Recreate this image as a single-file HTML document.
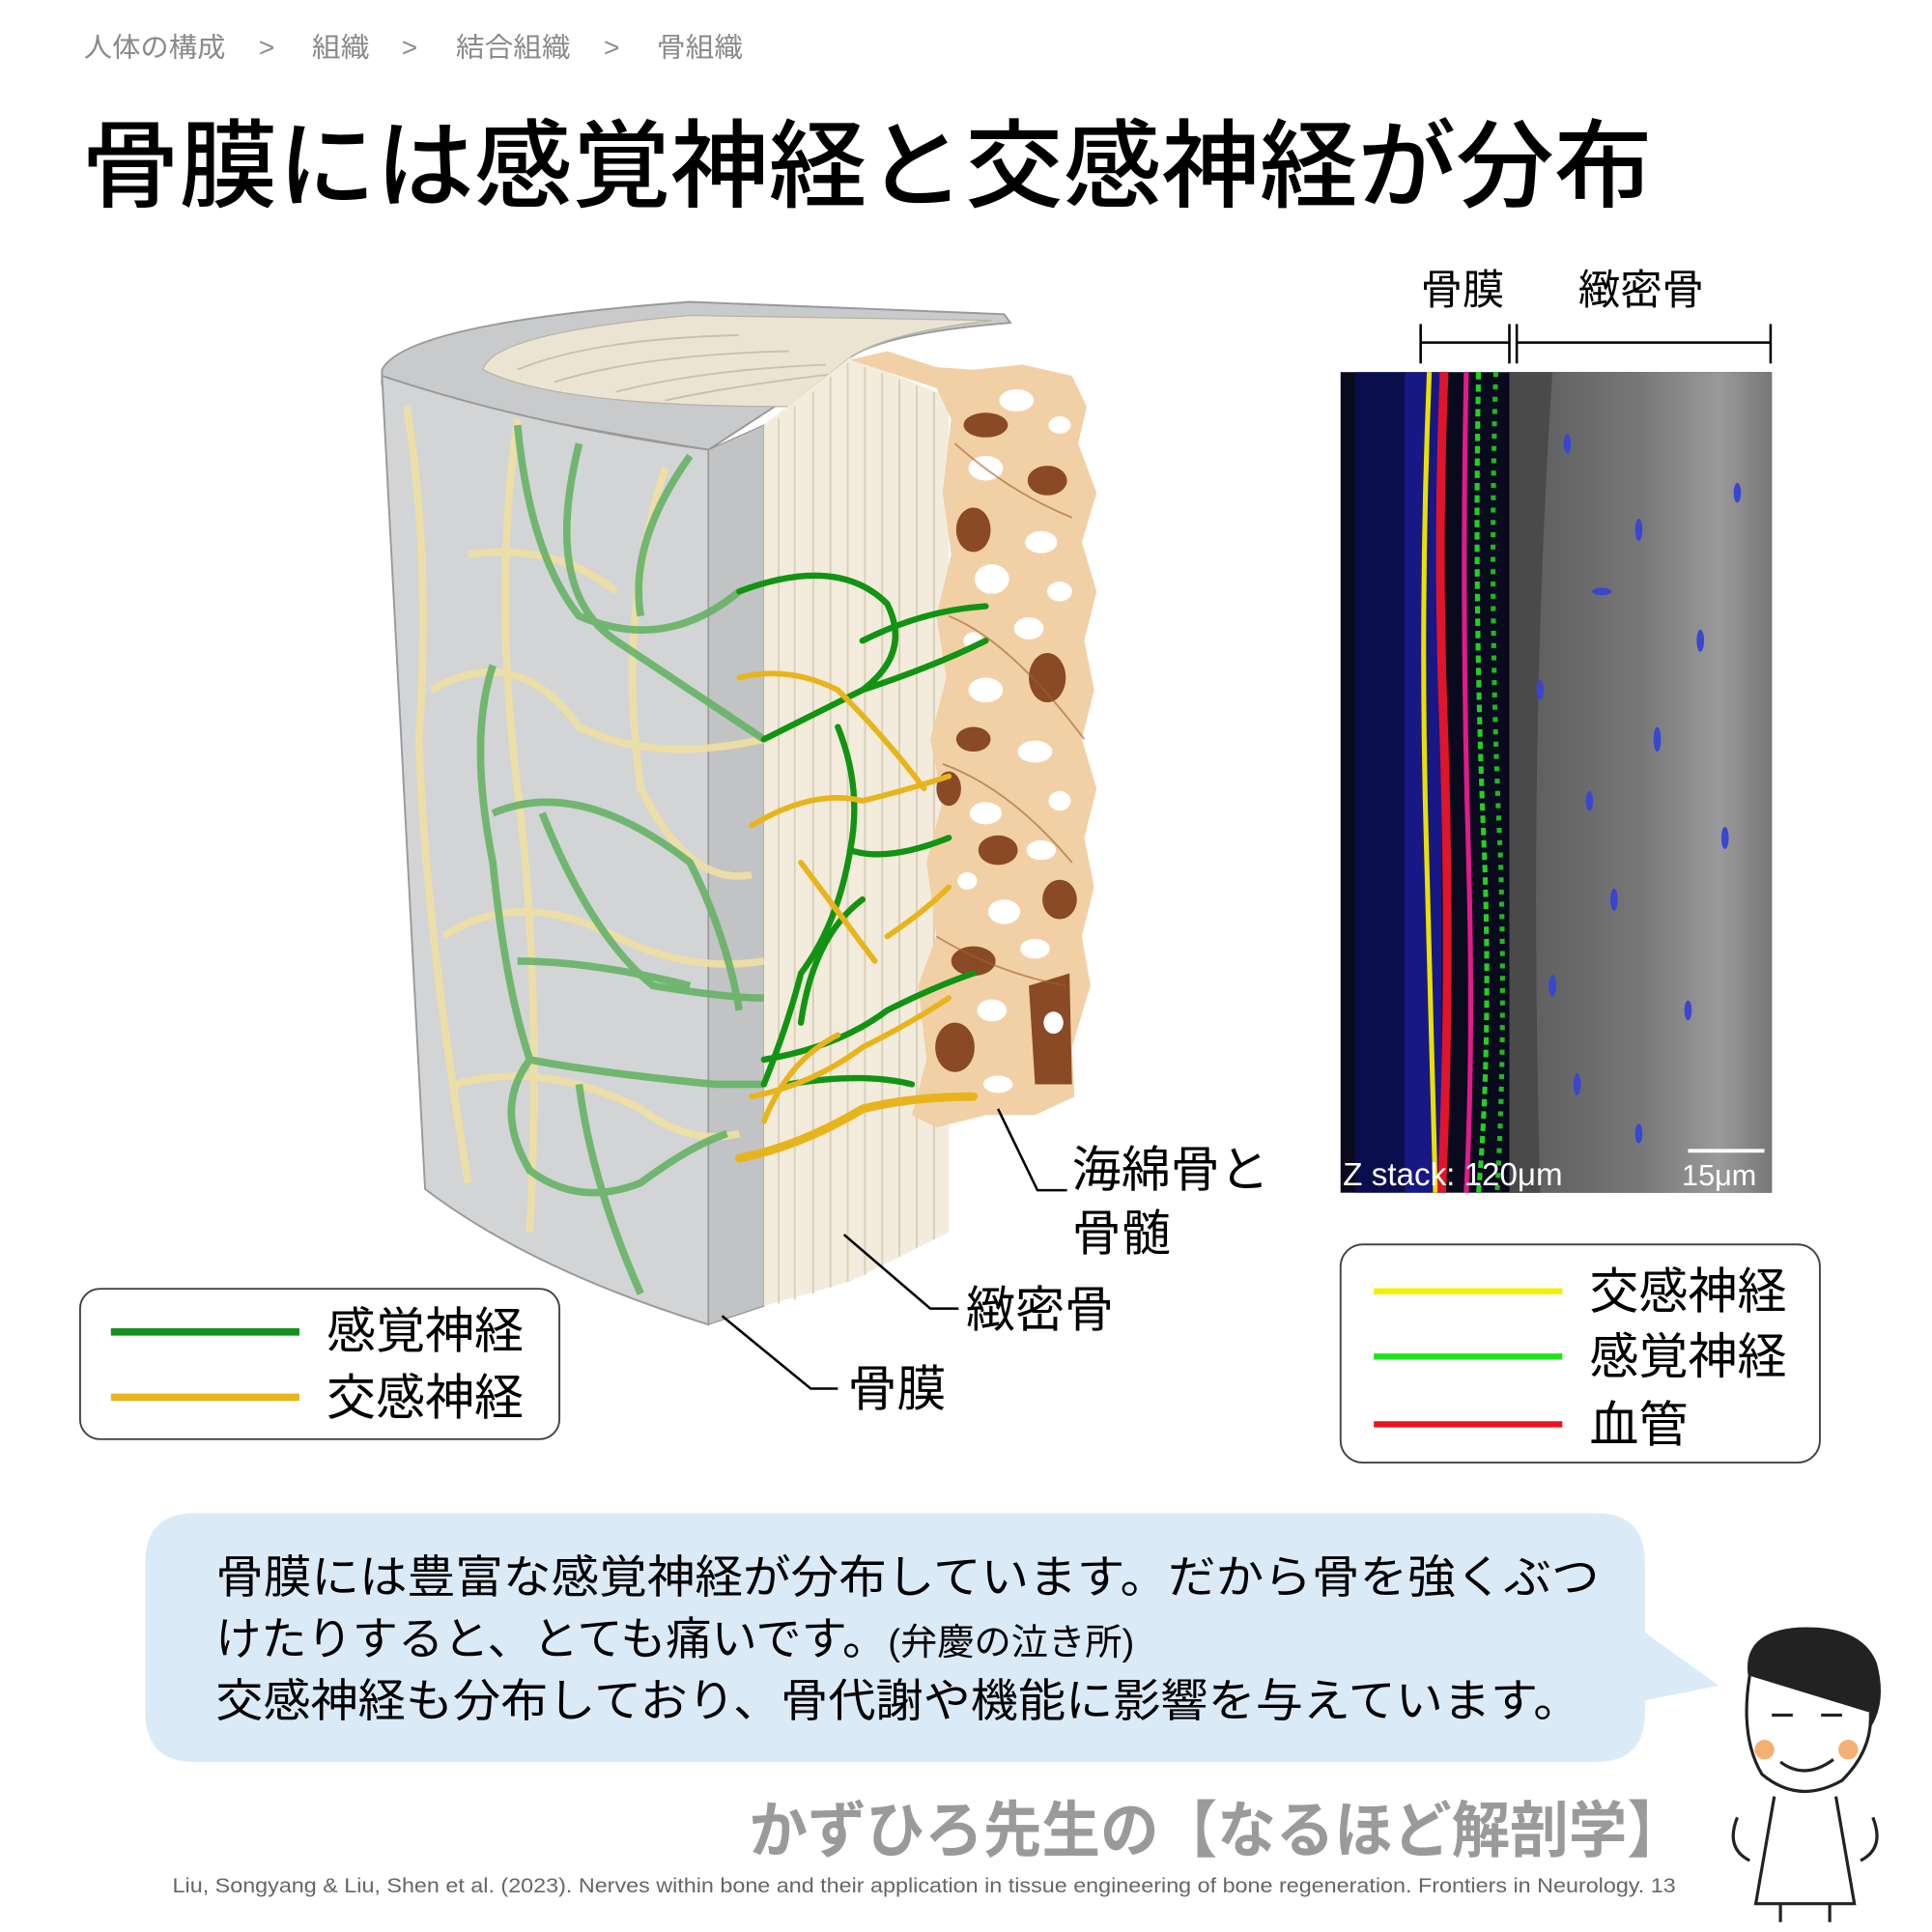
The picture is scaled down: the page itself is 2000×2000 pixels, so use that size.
<!DOCTYPE html>
<html><head><meta charset="utf-8"><style>
html,body{margin:0;padding:0;background:#fff;}
svg{display:block;}
text{font-family:"Liberation Sans","Noto Sans CJK JP",sans-serif;}
</style></head><body>
<svg width="2000" height="2000" viewBox="0 0 1568 1568" xmlns="http://www.w3.org/2000/svg">
<rect width="1568" height="1568" fill="#fff"/>
<!-- breadcrumb -->
<g font-size="22" fill="#8a8a8a">
<text x="68" y="46" textLength="115" lengthAdjust="spacingAndGlyphs">人体の構成</text>
<text x="210" y="46">&gt;</text>
<text x="253" y="46" textLength="47" lengthAdjust="spacingAndGlyphs">組織</text>
<text x="326" y="46">&gt;</text>
<text x="370" y="46" textLength="93" lengthAdjust="spacingAndGlyphs">結合組織</text>
<text x="490" y="46">&gt;</text>
<text x="533" y="46" textLength="70" lengthAdjust="spacingAndGlyphs">骨組織</text>
</g>
<!-- title -->
<text x="66" y="162" font-size="78" fill="#000" font-weight="500" textLength="1275" lengthAdjust="spacingAndGlyphs">骨膜には感覚神経と交感神経が分布</text>

<!-- bone illustration -->
<g>
 <path d="M310,300 Q330,262 560,245 L815,255 L820,262 Q720,270 690,290 L575,365 Q420,340 310,312 Z" fill="#c9cacb" stroke="#999" stroke-width="1.5"/>
 <path d="M392,300 Q400,270 560,256 L805,260 Q720,270 690,290 L640,330 Q450,330 392,300 Z" fill="#ece4d2" stroke="#b9b3a5" stroke-width="1"/>
 <path d="M420,300 Q480,275 600,272 M450,310 Q520,288 640,285 M500,318 Q570,300 670,296 M540,325 Q600,312 690,302" fill="none" stroke="#c9c0ad" stroke-width="1.5"/>
 <path d="M310,305 Q430,345 575,365 L575,1075 Q430,1030 345,965 Z" fill="#d3d4d6" stroke="#999" stroke-width="1.5"/>
 <path d="M575,365 L620,345 L620,1060 L575,1075 Z" fill="#c2c3c5" stroke="#999" stroke-width="1"/>
 <path d="M620,345 L690,290 L770,322 L770,1000 L690,1040 L620,1060 Z" fill="#f3ecdc"/>
 <g stroke="#d9cfba" stroke-width="1.5">
  <line x1="632" y1="340" x2="632" y2="1058"/><line x1="645" y1="330" x2="645" y2="1055"/>
  <line x1="660" y1="318" x2="660" y2="1050"/><line x1="674" y1="306" x2="674" y2="1045"/>
  <line x1="688" y1="295" x2="688" y2="1040"/><line x1="702" y1="298" x2="702" y2="1035"/>
  <line x1="716" y1="303" x2="716" y2="1028"/><line x1="730" y1="308" x2="730" y2="1020"/>
  <line x1="744" y1="313" x2="744" y2="1013"/><line x1="758" y1="318" x2="758" y2="1006"/>
 </g>
 <path d="M690,292 L720,285 L760,298 L790,300 L830,296 L870,305 L882,330 L875,360 L890,400 L878,440 L890,480 L880,520 L888,560 L878,600 L890,640 L880,680 L888,720 L878,760 L885,800 L870,850 L872,890 L840,905 L800,905 L760,915 L740,905 L752,860 L745,800 L760,760 L752,700 L765,650 L755,600 L768,550 L760,500 L772,450 L765,400 L772,340 L760,315 Z" fill="#f2d0a6"/>
 <g fill="#8a4a26">
  <ellipse cx="800" cy="345" rx="18" ry="10"/><ellipse cx="850" cy="390" rx="16" ry="12"/>
  <ellipse cx="790" cy="430" rx="14" ry="18"/><ellipse cx="850" cy="550" rx="15" ry="20"/>
  <ellipse cx="790" cy="600" rx="14" ry="10"/><ellipse cx="770" cy="640" rx="10" ry="14"/>
  <ellipse cx="810" cy="690" rx="16" ry="12"/><ellipse cx="860" cy="730" rx="14" ry="16"/>
  <ellipse cx="790" cy="780" rx="18" ry="12"/><path d="M835,800 L868,790 L870,880 L840,880 Z"/>
  <ellipse cx="775" cy="850" rx="16" ry="20"/>
 </g>
 <g fill="#fff">
  <ellipse cx="825" cy="325" rx="14" ry="9"/><ellipse cx="800" cy="380" rx="14" ry="10"/>
  <ellipse cx="845" cy="440" rx="13" ry="9"/><ellipse cx="805" cy="470" rx="14" ry="12"/>
  <ellipse cx="835" cy="510" rx="12" ry="9"/><ellipse cx="800" cy="560" rx="14" ry="10"/>
  <ellipse cx="840" cy="610" rx="14" ry="9"/><ellipse cx="800" cy="660" rx="13" ry="9"/>
  <ellipse cx="845" cy="690" rx="12" ry="8"/><ellipse cx="815" cy="740" rx="13" ry="10"/>
  <ellipse cx="840" cy="770" rx="12" ry="8"/><ellipse cx="805" cy="820" rx="12" ry="9"/>
  <ellipse cx="810" cy="880" rx="12" ry="7"/>
  <ellipse cx="860" cy="345" rx="9" ry="7"/><ellipse cx="860" cy="480" rx="10" ry="8"/>
  <ellipse cx="860" cy="650" rx="9" ry="8"/><ellipse cx="855" cy="830" rx="8" ry="9"/>
  <ellipse cx="790" cy="520" rx="8" ry="7"/><ellipse cx="785" cy="715" rx="8" ry="7"/>
 </g>
 <g fill="none" stroke="#a0602e" stroke-width="1.5" opacity="0.6">
  <path d="M775,360 Q820,400 870,420 M770,500 Q820,520 880,600 M765,620 Q820,640 870,700 M760,760 Q810,790 865,800"/>
 </g>
 <g fill="none" stroke="#efe0a2" stroke-width="6" opacity="0.9">
  <path d="M330,330 Q350,450 340,600 Q345,750 380,960"/>
  <path d="M350,560 Q420,520 470,590 Q530,620 620,600"/>
  <path d="M360,760 Q420,720 500,760 Q560,790 620,780"/>
  <path d="M370,880 Q440,860 520,900 Q560,930 600,920"/>
  <path d="M420,340 Q400,480 420,640 Q440,800 430,1000"/>
  <path d="M540,380 Q500,500 520,640 Q560,720 610,710"/>
  <path d="M380,450 Q450,440 500,480"/>
 </g>
 <g fill="none" stroke="#66b366" stroke-width="6" opacity="0.9">
  <path d="M420,345 Q430,450 470,500 Q540,530 600,480"/>
  <path d="M470,360 Q440,480 500,520 Q560,560 620,600"/>
  <path d="M560,370 Q510,440 520,500"/>
  <path d="M400,540 Q380,600 400,700 Q410,800 430,860 Q480,870 580,880 Q610,880 620,880"/>
  <path d="M400,660 Q470,630 560,700 Q590,760 600,820"/>
  <path d="M440,660 Q480,760 530,800 Q590,810 620,810"/>
  <path d="M420,780 Q480,780 560,800"/>
  <path d="M430,860 Q400,900 430,950 Q470,980 520,960 Q560,930 590,920"/>
  <path d="M470,880 Q480,960 520,1050"/>
 </g>
 <g fill="none" stroke="#119411" stroke-width="5" stroke-linecap="round">
  <path d="M600,480 Q680,450 720,490 Q740,530 700,560 Q660,580 620,600"/>
  <path d="M700,520 Q750,495 800,492"/>
  <path d="M700,560 Q760,540 800,520"/>
  <path d="M680,590 Q700,640 690,690 Q720,700 770,680"/>
  <path d="M690,690 Q680,750 650,790 Q640,830 620,880"/>
  <path d="M620,860 Q680,850 720,820 Q760,800 790,790"/>
  <path d="M650,830 Q660,760 700,730"/>
  <path d="M640,880 Q700,870 740,880"/>
 </g>
 <g fill="none" stroke="#e8b41c" stroke-width="4.5" stroke-linecap="round">
  <path d="M600,550 Q640,540 680,560 Q720,600 750,640"/>
  <path d="M610,670 Q660,640 700,650 Q740,640 770,630"/>
  <path d="M650,700 Q680,740 710,780"/>
  <path d="M610,890 Q660,880 700,850 Q740,830 770,810"/>
  <path d="M600,940 Q650,930 700,900 Q740,890 790,890" stroke-width="7"/>
  <path d="M620,910 Q640,860 680,840"/>
  <path d="M720,760 Q750,740 770,720"/>
 </g>
</g>

<g fill="none" stroke="#000" stroke-width="2">
 <path d="M810,900 L842,966 L866,966"/>
 <path d="M685,1002 L755,1062 L778,1062"/>
 <path d="M586,1068 L658,1127 L680,1127"/>
</g>
<g font-size="40" fill="#000">
 <text x="870" y="963">海綿骨と</text>
 <text x="870" y="1015">骨髄</text>
 <text x="784" y="1077">緻密骨</text>
 <text x="688" y="1141">骨膜</text>
</g>

<rect x="65" y="1046" width="389" height="122" rx="16" fill="#fff" stroke="#444" stroke-width="1.5"/>
<line x1="90" y1="1081" x2="243" y2="1081" stroke="#13901a" stroke-width="6"/>
<line x1="90" y1="1134" x2="243" y2="1134" stroke="#e8b41c" stroke-width="6"/>
<text x="265" y="1094" font-size="40">感覚神経</text>
<text x="265" y="1148" font-size="40">交感神経</text>

<text x="1153" y="247" font-size="34">骨膜</text>
<text x="1281" y="247" font-size="34">緻密骨</text>
<g stroke="#000" stroke-width="2">
 <line x1="1153" y1="278" x2="1225" y2="278"/><line x1="1231" y1="278" x2="1437" y2="278"/>
 <line x1="1153" y1="263" x2="1153" y2="295"/><line x1="1225" y1="263" x2="1225" y2="295"/>
 <line x1="1231" y1="263" x2="1231" y2="295"/><line x1="1437" y1="263" x2="1437" y2="295"/>
</g>
<defs>
 <linearGradient id="gr" x1="0" x2="1" y1="0" y2="0">
  <stop offset="0" stop-color="#5a5a5a"/><stop offset="0.5" stop-color="#777"/><stop offset="0.8" stop-color="#9a9a9a"/><stop offset="1" stop-color="#777"/>
 </linearGradient>
</defs>
<rect x="1088" y="302" width="350" height="666" fill="#0a0a1e"/>
<rect x="1225" y="302" width="213" height="666" fill="url(#gr)"/>
<path d="M1225,302 L1260,302 Q1240,600 1250,968 L1225,968 Z" fill="#4a4a4a"/>
<rect x="1100" y="302" width="40" height="666" fill="#0b1060" opacity="0.7"/>
<rect x="1140" y="302" width="30" height="666" fill="#1a1aa0" opacity="0.8"/>
<g fill="none" stroke-width="4">
 <path d="M1160,302 Q1152,500 1158,700 Q1162,850 1165,968" stroke="#e8e000"/>
 <path d="M1172,302 Q1166,450 1172,600 Q1178,800 1170,968" stroke="#e0142a" stroke-width="7"/>
 <path d="M1190,302 Q1186,500 1192,700 Q1196,850 1190,968" stroke="#e21a8a"/>
 <path d="M1200,302 Q1196,500 1205,700 Q1210,850 1200,968" stroke="#22d022" stroke-dasharray="6 4"/>
 <path d="M1214,302 Q1208,500 1218,700 Q1222,850 1215,968" stroke="#1fb81f" stroke-dasharray="4 6"/>
</g>
<g fill="#3a46d0">
 <ellipse cx="1272" cy="360" rx="3" ry="8"/><ellipse cx="1330" cy="430" rx="3" ry="9"/><ellipse cx="1300" cy="480" rx="8" ry="3"/>
 <ellipse cx="1380" cy="520" rx="3" ry="9"/><ellipse cx="1250" cy="560" rx="3" ry="8"/><ellipse cx="1345" cy="600" rx="3" ry="10"/>
 <ellipse cx="1290" cy="650" rx="3" ry="8"/><ellipse cx="1400" cy="680" rx="3" ry="9"/><ellipse cx="1310" cy="730" rx="3" ry="9"/>
 <ellipse cx="1260" cy="800" rx="3" ry="9"/><ellipse cx="1370" cy="820" rx="3" ry="8"/><ellipse cx="1280" cy="880" rx="3" ry="9"/>
 <ellipse cx="1330" cy="920" rx="3" ry="8"/><ellipse cx="1410" cy="400" rx="3" ry="8"/>
</g>
<text x="1090" y="962" font-size="26" fill="#fff">Z stack: 120μm</text>
<line x1="1370" y1="934" x2="1432" y2="934" stroke="#fff" stroke-width="3"/>
<text x="1365" y="962" font-size="24" fill="#fff">15μm</text>

<rect x="1088" y="1010" width="389" height="177" rx="18" fill="#fff" stroke="#444" stroke-width="1.5"/>
<line x1="1115" y1="1048" x2="1268" y2="1048" stroke="#f0f000" stroke-width="5"/>
<line x1="1115" y1="1101" x2="1268" y2="1101" stroke="#1de21d" stroke-width="5"/>
<line x1="1115" y1="1156" x2="1268" y2="1156" stroke="#ee1122" stroke-width="5"/>
<text x="1290" y="1062" font-size="40">交感神経</text>
<text x="1290" y="1115" font-size="40">感覚神経</text>
<text x="1290" y="1170" font-size="40">血管</text>

<path d="M158,1228 L1295,1228 Q1335,1228 1335,1268 L1335,1325 L1395,1368 L1335,1380 L1335,1390 Q1335,1430 1295,1430 L158,1430 Q118,1430 118,1390 L118,1268 Q118,1228 158,1228 Z" fill="#dbeaf7"/>
<g font-size="37" fill="#000">
 <text x="175" y="1293" textLength="1123" lengthAdjust="spacingAndGlyphs">骨膜には豊富な感覚神経が分布しています。だから骨を強くぶつ</text>
 <text x="175" y="1343">けたりすると、とても痛いです。<tspan font-size="30">(弁慶の泣き所)</tspan></text>
 <text x="175" y="1393" textLength="1108" lengthAdjust="spacingAndGlyphs">交感神経も分布しており、骨代謝や機能に影響を与えています。</text>
</g>

<text x="608" y="1503" font-size="50" font-weight="bold" fill="#9a9a9a" textLength="760" lengthAdjust="spacingAndGlyphs">かずひろ先生の【なるほど解剖学】</text>
<text x="140" y="1536" font-size="16.5" fill="#666" textLength="1220" lengthAdjust="spacingAndGlyphs">Liu, Songyang &amp; Liu, Shen et al. (2023). Nerves within bone and their application in tissue engineering of bone regeneration. Frontiers in Neurology. 13</text>

<g stroke="#222" stroke-width="2.5" fill="none">
 <path d="M1420,1360 Q1415,1325 1460,1322 Q1510,1320 1522,1350 Q1530,1380 1518,1400" fill="#222"/>
 <path d="M1420,1360 Q1412,1410 1430,1440 Q1460,1465 1495,1445 Q1520,1420 1518,1390" fill="#fff"/>
 <path d="M1438,1392 L1455,1392 M1478,1392 L1495,1392"/>
 <path d="M1445,1430 Q1465,1445 1488,1428"/>
 <path d="M1440,1458 L1425,1545 L1505,1545 L1490,1458"/>
 <path d="M1410,1475 Q1400,1500 1420,1510 M1520,1475 Q1530,1500 1510,1510"/>
 <path d="M1445,1545 L1445,1560 M1485,1545 L1485,1560"/>
</g>
<circle cx="1432" cy="1420" r="8" fill="#f4b072"/>
<circle cx="1500" cy="1420" r="8" fill="#f4b072"/>
</svg>
</body></html>
